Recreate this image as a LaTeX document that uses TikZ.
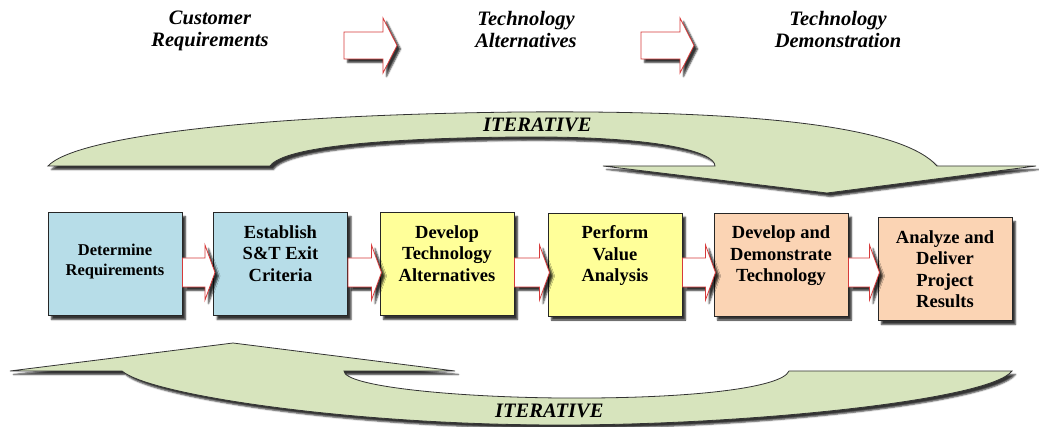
\documentclass[tikz,border=0pt]{standalone}
\usepackage{fontspec}
\setmainfont{Liberation Serif}
\usetikzlibrary{shadows.blur,calc}

\definecolor{reqblue}{HTML}{B7DDE8}
\definecolor{altyellow}{HTML}{FFFF99}
\definecolor{demopeach}{HTML}{FBD4B4}
\definecolor{loopgreen}{HTML}{D7E4BD}
\definecolor{arrowred}{HTML}{D63A3A}

\tikzset{
  softshadow/.style={blur shadow={shadow xshift=3.5pt,shadow yshift=-3.5pt,
      shadow blur radius=1.6pt,shadow opacity=80}},
  stagebox/.style={draw=black!85,line width=1pt,minimum width=134pt,
      minimum height=103pt,inner sep=0pt,softshadow},
  stagetext/.style={align=center,inner sep=0pt,anchor=north,
      font=\bfseries\fontsize{18.5}{21.5}\selectfont},
  phasetext/.style={align=center,inner sep=0pt,anchor=north,
      font=\bfseries\itshape\fontsize{20.5}{22}\selectfont},
  looptext/.style={inner sep=0pt,anchor=base west,
      font=\bfseries\itshape\fontsize{20.5}{22}\selectfont},
  flowarr/.style={fill=white,draw=arrowred,line width=0.8pt,line join=miter,softshadow},
  loopband/.style={fill=loopgreen,draw=black!80,line width=0.8pt,softshadow},
}

% block arrow from the right side of one stage to the left side of the next
\newcommand\flowarrow[2]{%
  \draw[flowarr] let \p1=(#1.east), \p2=(#2.west) in
    (\x1,-258pt) -- (\x2-8pt,-258pt) -- (\x2-8pt,-245pt) -- (\x2+2pt,-272.5pt)
    -- (\x2-8pt,-300pt) -- (\x2-8pt,-287pt) -- (\x1,-287pt) -- cycle;}

% block arrow between the phase headings, starting at a named point
\newcommand\phasearrow[1]{%
  \draw[flowarr,shift={(#1)}] (0,-13.5) -- (39,-13.5) -- (39,-27.5) -- (53,0)
    -- (39,27.5) -- (39,13.5) -- (0,13.5) -- cycle;}

\begin{document}
\begin{tikzpicture}[x=1pt,y=-1pt]
\useasboundingbox (0,0) rectangle (1039,427);

% phase headings
\node[phasetext] (ph1) at (210,11) {Customer\\Requirements};
\node[phasetext] (ph2) at (526,11) {Technology\\Alternatives};
\node[phasetext] (ph3) at (838,11) {Technology\\Demonstration};
\coordinate (pa1) at (344,45.5);
\coordinate (pa2) at (641,45.5);
\phasearrow{pa1}
\phasearrow{pa2}

% upper iteration loop (left to right, head pointing down)
\filldraw[loopband] (48,166) -- (270,166)
  .. controls (285,145) and (400,138) .. (520,137)
  .. controls (660,136) and (715,152) .. (715,166)
  -- (603,166) -- (827,193) -- (1036,166) -- (937,166)
  .. controls (905,130) and (780,110) .. (520,112)
  .. controls (250,115) and (75,137) .. (48,166) -- cycle;
\node[looptext] (it1) at (483,132) {ITERATIVE};

% lower iteration loop (right to left, head pointing up)
\filldraw[loopband] (10,371) -- (233,343) -- (455,371) -- (344,371)
  .. controls (344,386) and (450,397) .. (560,398)
  .. controls (690,399) and (782,388) .. (789,371)
  -- (1012,371)
  .. controls (990,400) and (750,425) .. (560,425)
  .. controls (350,425) and (150,395) .. (122,371) -- cycle;
\node[looptext] (it2) at (495,418) {ITERATIVE};

% process stages
\node[stagebox,fill=reqblue]    (b1) at (115,264.5) {};
\node[stagebox,fill=reqblue]    (b2) at (280.5,264.5) {};
\node[stagebox,fill=altyellow]  (b3) at (447,264.5) {};
\node[stagebox,fill=altyellow]  (b4) at (615,265) {};
\node[stagebox,fill=demopeach]  (b5) at (781,265) {};
\node[stagebox,fill=demopeach]  (b6) at (945,269.5) {};

\node[stagetext,font=\bfseries\fontsize{16.5}{20}\selectfont] (s1)
  at ($(b1.north)+(0,31)$) {Determine\\Requirements};
\node[stagetext] (s2) at ($(b2.north)+(0,12.5)$) {Establish\\S\&T Exit\\Criteria};
\node[stagetext] (s3) at ($(b3.north)+(0,12.5)$) {Develop\\Technology\\Alternatives};
\node[stagetext] (s4) at ($(b4.north)+(0,12.5)$) {Perform\\Value\\Analysis};
\node[stagetext] (s5) at ($(b5.north)+(0,12.5)$) {Develop and\\Demonstrate\\Technology};
\node[stagetext] (s6) at ($(b6.north)+(0,12.5)$) {Analyze and\\Deliver\\Project\\Results};

% flow between stages
\flowarrow{b1}{b2}
\flowarrow{b2}{b3}
\flowarrow{b3}{b4}
\flowarrow{b4}{b5}
\flowarrow{b5}{b6}
\end{tikzpicture}
\end{document}
